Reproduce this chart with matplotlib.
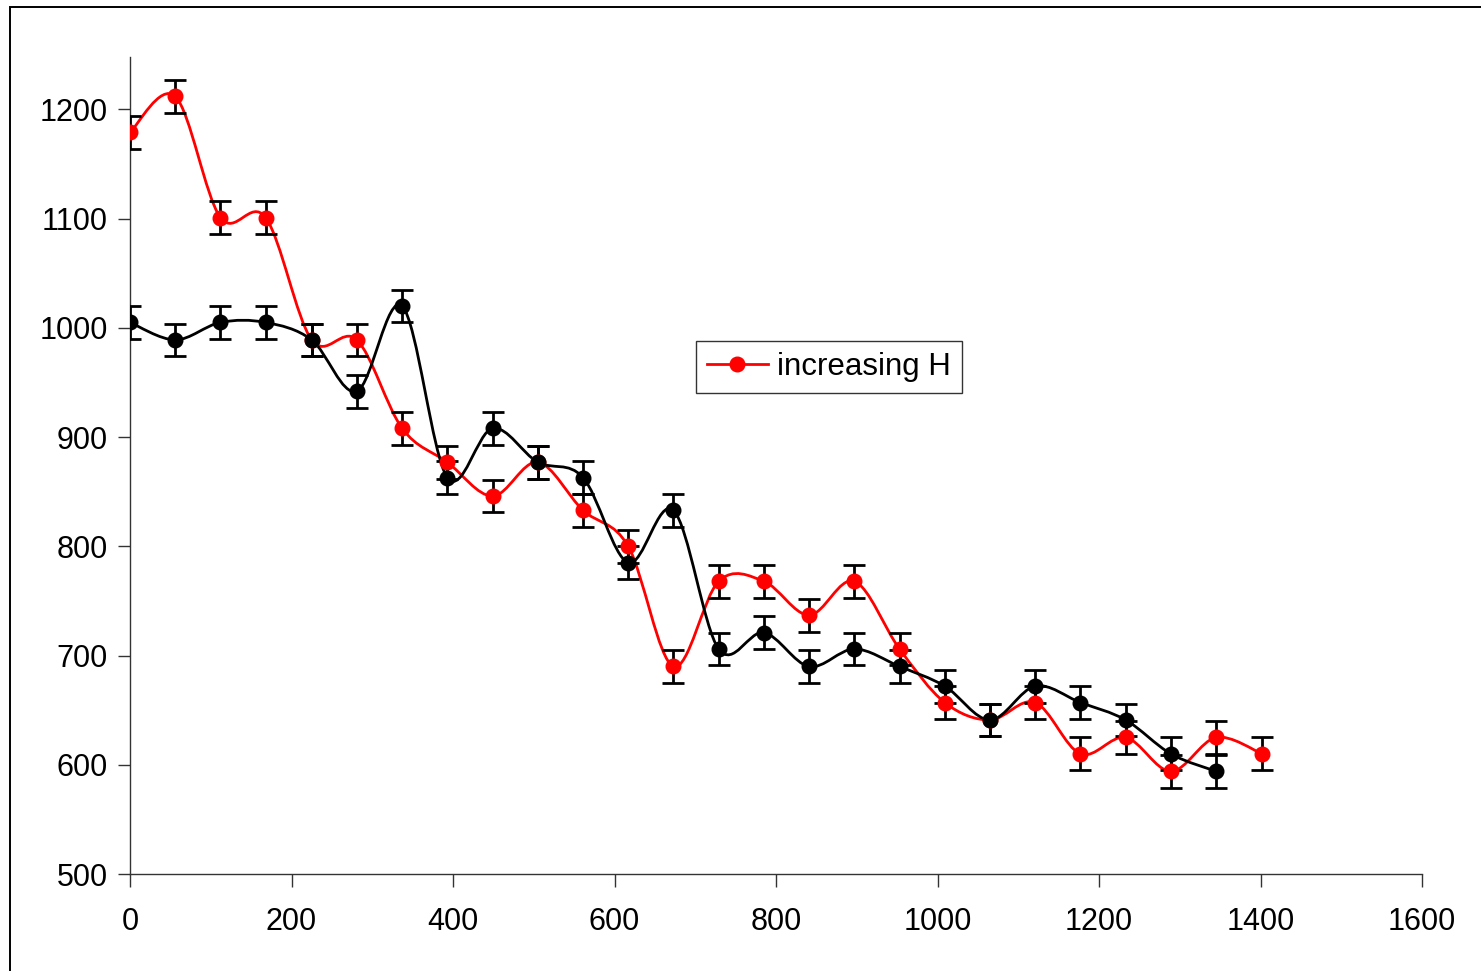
import numpy as np
import matplotlib
matplotlib.use("Agg")
import matplotlib.pyplot as plt
from matplotlib.path import Path
from matplotlib.patches import PathPatch, Rectangle

plt.rcParams['font.family'] = ['Liberation Sans', 'DejaVu Sans']

x_black = [0, 56, 112, 168, 225, 281, 337, 393, 449, 505, 561, 617, 673, 729,
           785, 841, 897, 953, 1009, 1065, 1121, 1177, 1233, 1289, 1345]
y_black = [1005, 989, 1005, 1005, 989, 942, 1020, 863, 908, 877, 863, 785, 833, 706,
           721, 690, 706, 690, 672, 641, 672, 657, 641, 610, 594]

x_red = [0, 56, 112, 168, 225, 281, 337, 393, 449, 505, 561, 617, 673, 729,
         785, 841, 897, 953, 1009, 1065, 1121, 1177, 1233, 1289, 1345, 1402]
y_red = [1179, 1212, 1101, 1101, 989, 989, 908, 877, 846, 877, 833, 800, 690, 768,
         768, 737, 768, 706, 657, 641, 657, 610, 625, 594, 625, 610]

err = 15
legend_label = "increasing H"
x_ticks = [0, 200, 400, 600, 800, 1000, 1200, 1400, 1600]
y_ticks = [500, 600, 700, 800, 900, 1000, 1100, 1200]


def smooth_path(xs, ys):
    p = np.column_stack([xs, ys]).astype(float)
    n = len(p)
    verts = [p[0]]
    codes = [Path.MOVETO]
    for i in range(n - 1):
        p0 = p[i - 1] if i > 0 else p[i]
        p1 = p[i]
        p2 = p[i + 1]
        p3 = p[i + 2] if i + 2 < n else p[i + 1]
        c1 = p1 + (p2 - p0) / 6.0
        c2 = p2 - (p3 - p1) / 6.0
        verts += [c1, c2, p2]
        codes += [Path.CURVE4] * 3
    return Path(verts, codes)


fig = plt.figure(figsize=(14.81, 9.71), dpi=100)
ax = fig.add_axes([130 / 1481, 1 - 874 / 971, (1422 - 130) / 1481, (874 - 57) / 971])

# outer frame
fig.patches.append(Rectangle((9.5 / 1481, 1 - 990 / 971), 1.5, (990 - 6.5) / 971,
                             transform=fig.transFigure, fill=False,
                             edgecolor='black', linewidth=1.4))

LW = 2.0
for xs, ys, col in [(x_red, y_red, '#FF0000'), (x_black, y_black, 'black')]:
    ax.add_patch(PathPatch(smooth_path(xs, ys), fill=False, edgecolor=col,
                           linewidth=LW, zorder=3))
    ax.errorbar(xs, ys, yerr=err, fmt='none', ecolor='black', elinewidth=LW,
                capsize=8, capthick=LW, zorder=4)
    ax.plot(xs, ys, linestyle='none', marker='o', markersize=10.5,
            color=col, zorder=5)

# legend proxy
ax.plot([], [], color='#FF0000', linewidth=LW, marker='o', markersize=10.5,
        label=legend_label)
leg = ax.legend(loc='upper left', bbox_to_anchor=((696 - 130) / 1292, (874 - 341) / 817),
                fontsize=22.5, frameon=True, fancybox=False, borderpad=0.35,
                handlelength=1.95, handletextpad=0.3, borderaxespad=0)
leg.get_frame().set_edgecolor('black')
leg.get_frame().set_linewidth(1.0)

ax.set_xlim(0, 1600)
ax.set_ylim(500, 1248)
ax.set_xticks(x_ticks)
ax.set_yticks(y_ticks)
ax.spines['top'].set_visible(False)
ax.spines['right'].set_visible(False)
for s in ['left', 'bottom']:
    ax.spines[s].set_linewidth(1.0)
    ax.spines[s].set_color('#333333')
ax.tick_params(axis='both', direction='out', length=9, width=1.0, color='#333333',
               labelsize=22)
ax.tick_params(axis='y', pad=7)
ax.tick_params(axis='x', pad=15)

fig.savefig('out.png', dpi=100)
